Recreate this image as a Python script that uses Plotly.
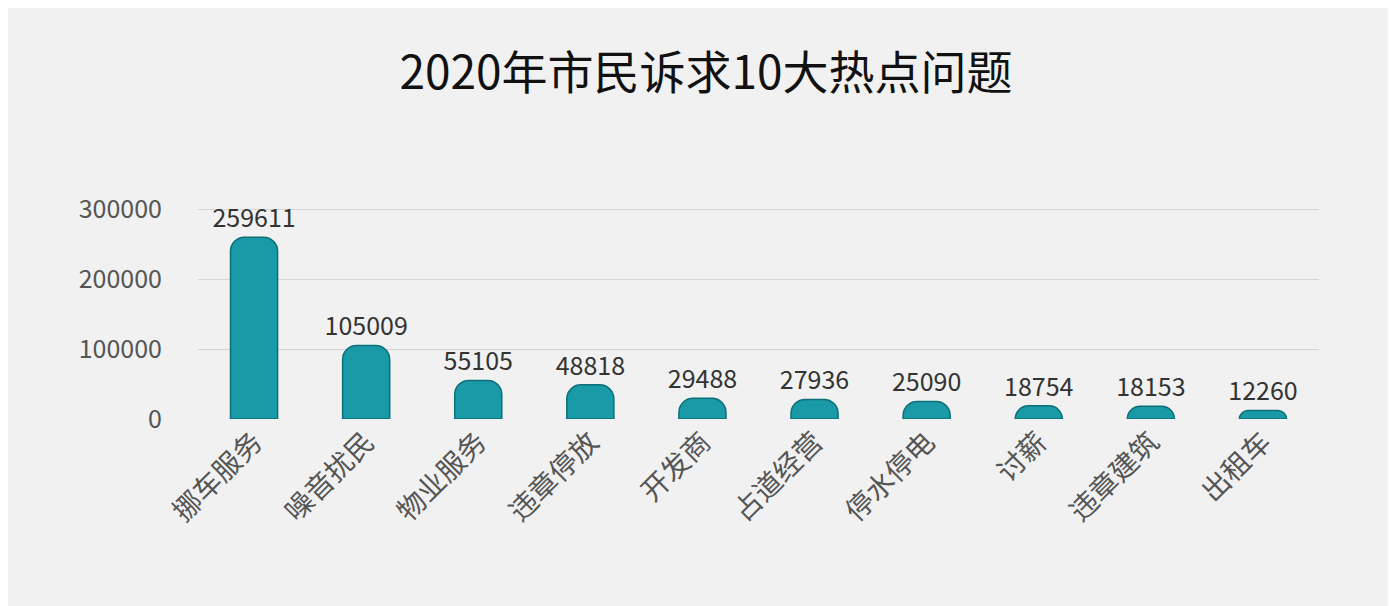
import plotly.graph_objects as go

categories = ["挪车服务", "噪音扰民", "物业服务", "违章停放", "开发商",
              "占道经营", "停水停电", "讨薪", "违章建筑", "出租车"]
counts = [259611, 105009, 55105, 48818, 29488, 27936, 25090, 18754, 18153, 12260]

fig = go.Figure(go.Bar(
    x=categories, y=counts,
    marker=dict(color="#1a9aa6", line=dict(color="#0d6f78", width=1.5), cornerradius=14),
    text=[str(v) for v in counts], textposition="outside", constraintext="none",
    textfont=dict(size=25, color="#333333"),
    cliponaxis=False,
))

fig.update_layout(
    width=1396, height=606,
    paper_bgcolor="#f1f1f1", plot_bgcolor="#f1f1f1",
    font=dict(family="Noto Sans CJK SC, Noto Sans, sans-serif"),
    title=dict(text="2020年市民诉求10大热点问题", x=0.5, y=0.92, xanchor="center",
               font=dict(size=46, color="#111111")),
    margin=dict(l=190, r=85, t=180, b=195),
    bargap=0.58,
    showlegend=False,
)
fig.update_yaxes(range=[0, 330000], tickvals=[0, 100000, 200000, 300000],
                 tickformat="d",
                 tickfont=dict(size=25, color="#555555"), gridcolor="#d4d4d4",
                 zeroline=False, ticklabelstandoff=35)
fig.update_xaxes(tickangle=-45, tickfont=dict(size=28, color="#555555"), showline=False)

fig.write_html("out.html")
